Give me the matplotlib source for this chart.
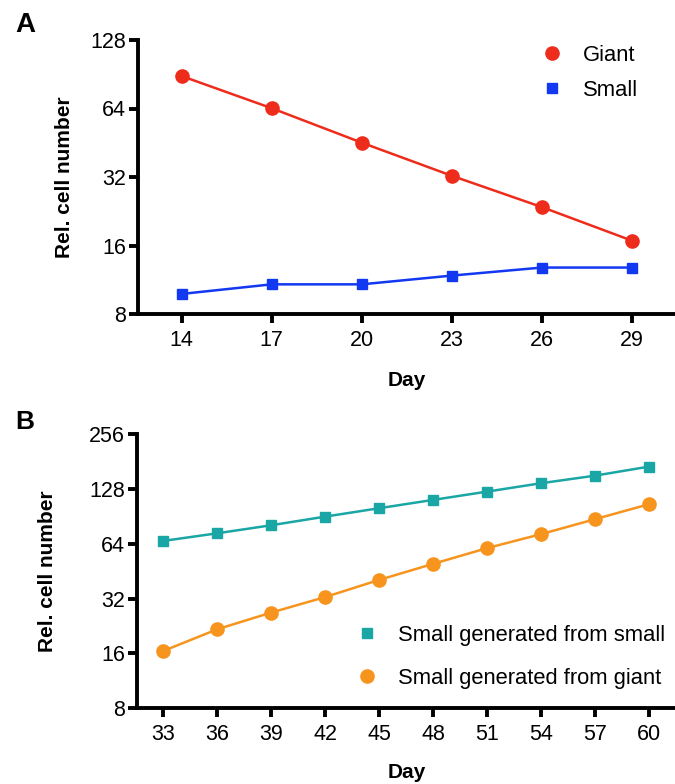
import matplotlib
matplotlib.use("Agg")
import matplotlib.pyplot as plt
from matplotlib.ticker import FixedLocator, FuncFormatter, NullLocator

plt.rcParams['font.family'] = ['Liberation Sans', 'DejaVu Sans']

# Panel A data
days_a = [14, 17, 20, 23, 26, 29]
giant = [88.9, 64.2, 45.3, 32.4, 23.6, 16.8]
small = [9.8, 10.8, 10.8, 11.8, 12.8, 12.8]
yticks_a = [8, 16, 32, 64, 128]

# Panel B data
days_b = [33, 36, 39, 42, 45, 48, 51, 54, 57, 60]
from_small = [66.3, 73.0, 80.8, 90.1, 100.2, 111.3, 123.6, 137.4, 151.2, 169.5]
from_giant = [16.5, 21.7, 26.8, 32.6, 40.5, 49.6, 60.5, 72.2, 87.2, 105.4]
yticks_b = [8, 16, 32, 64, 128, 256]

W, H = 675, 784
fig = plt.figure(figsize=(W / 100, H / 100), dpi=100)

def px_axes(left, top, right, bottom):
    return fig.add_axes([left / W, 1 - bottom / H, (right - left) / W, (bottom - top) / H])

RED = '#EE2C1C'
BLUE = '#1238F2'
TEAL = '#1BA6A6'
ORANGE = '#F7941D'
TICK_FS = 15.5
LAB_FS = 15
LEG_FS = 15.8

def style(ax, xticks, yticks, xlim, ylim):
    ax.set_yscale('log', base=2)
    ax.set_xlim(*xlim)
    ax.set_ylim(*ylim)
    ax.yaxis.set_major_locator(FixedLocator(yticks))
    ax.yaxis.set_major_formatter(FuncFormatter(lambda v, p: f"{int(round(v))}"))
    ax.yaxis.set_minor_locator(NullLocator())
    ax.set_xticks(xticks)
    ax.xaxis.set_minor_locator(NullLocator())
    for s in ['top', 'right']:
        ax.spines[s].set_visible(False)
    for s in ['left', 'bottom']:
        ax.spines[s].set_linewidth(2.8)
    ax.tick_params(axis='x', which='major', pad=5)
    ax.tick_params(axis='y', which='major', pad=2)
    ax.tick_params(axis='both', which='major', width=2.8, length=6.5,
                   labelsize=TICK_FS, color='black')

# Panel A
LA, TA, RA, BA = 137.7, 40, 674, 314
axA = px_axes(LA, TA, RA, BA)
axA.plot(days_a, giant, color=RED, lw=1.8, marker='o', ms=9.5)
axA.plot(days_a, small, color=BLUE, lw=1.8, marker='s', ms=7.5)
style(axA, days_a, yticks_a, (12.54, 30.4), (8, 128))
axA.set_xlabel('Day', fontsize=LAB_FS, fontweight='bold', va='center')
axA.set_ylabel('Rel. cell number', fontsize=LAB_FS, fontweight='bold', va='center')
axA.xaxis.set_label_coords((407 - LA) / (RA - LA), (BA - 381) / (BA - TA))
axA.yaxis.set_label_coords((64 - LA) / (RA - LA), 0.5)
axA.legend(handles=[plt.Line2D([], [], color=RED, marker='o', ms=9.5, ls='none'),
                    plt.Line2D([], [], color=BLUE, marker='s', ms=7.5, ls='none')],
           labels=['Giant', 'Small'], frameon=False, fontsize=LEG_FS,
           loc='upper left', bbox_to_anchor=((541 - LA) / (RA - LA), (BA - 45) / (BA - TA)),
           handlelength=1.0, handletextpad=0.9, labelspacing=0.62,
           borderaxespad=0.0, borderpad=0.0)

# Panel B
LB, TB, RB, BB = 136.7, 434, 674, 708.3
axB = px_axes(LB, TB, RB, BB)
axB.plot(days_b, from_small, color=TEAL, lw=1.8, marker='s', ms=7.5)
axB.plot(days_b, from_giant, color=ORANGE, lw=1.8, marker='o', ms=9.5)
style(axB, days_b, yticks_b, (31.53, 61.4), (8, 256))
axB.set_xlabel('Day', fontsize=LAB_FS, fontweight='bold', va='center')
axB.set_ylabel('Rel. cell number', fontsize=LAB_FS, fontweight='bold', va='center')
axB.xaxis.set_label_coords((407 - LB) / (RB - LB), (BB - 773) / (BB - TB))
axB.yaxis.set_label_coords((47.5 - LB) / (RB - LB), 0.5)
axB.legend(handles=[plt.Line2D([], [], color=TEAL, marker='s', ms=7.5, ls='none'),
                    plt.Line2D([], [], color=ORANGE, marker='o', ms=9.5, ls='none')],
           labels=['Small generated from small', 'Small generated from giant'],
           frameon=False, fontsize=LEG_FS,
           loc='upper left', bbox_to_anchor=((356 - LB) / (RB - LB), (BB - 625) / (BB - TB)),
           handlelength=1.0, handletextpad=0.9, labelspacing=0.98,
           borderaxespad=0.0, borderpad=0.0)

fig.text(25.5 / W, 1 - 24.5 / H, 'A', fontsize=20, fontweight='bold', ha='center', va='center')
fig.text(25 / W, 1 - 422 / H, 'B', fontsize=19, fontweight='bold', ha='center', va='center')

fig.savefig('out.png', dpi=100)
